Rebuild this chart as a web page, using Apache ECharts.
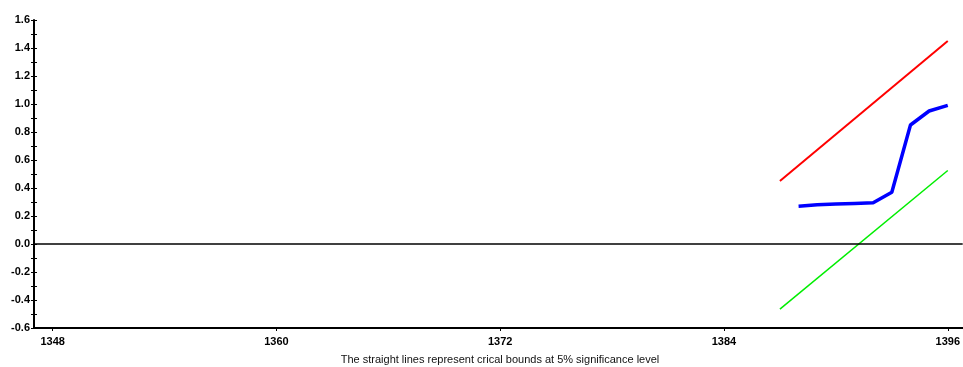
<!DOCTYPE html>
<html><head><meta charset="utf-8">
<script src="https://cdn.jsdelivr.net/npm/echarts@6/dist/echarts.min.js"></script>
<style>html,body{margin:0;padding:0;background:#fff}#c{width:963px;height:367px}</style>
</head><body><div id="c"></div>
<script>
const xTicks = [1348, 1360, 1372, 1384, 1396];
const boundYears = [1387, 1396];
const upperBound = [0.45, 1.45];
const lowerBound = [-0.465, 0.525];
const statYears = [1388, 1389, 1390, 1391, 1392, 1393, 1394, 1395, 1396];
const statValues = [0.27, 0.28, 0.285, 0.29, 0.295, 0.37, 0.85, 0.95, 0.99];
const caption = 'The straight lines represent crical bounds at 5% significance level';

const zip = (xs, ys) => xs.map((x, i) => [x, ys[i]]);
const lblFont = {fontFamily: 'Liberation Sans, Arial, sans-serif', fontWeight: 'bold', fontSize: 11, color: '#000'};

const chart = echarts.init(document.getElementById('c'), null, {renderer: 'canvas'});
chart.setOption({
  animation: false,
  backgroundColor: '#fff',
  grid: {left: 34, top: 20, right: 0, bottom: 39, containLabel: false},
  xAxis: [{
    type: 'value', min: 1347, max: 1396.8,
    axisLine: {show: true, onZero: false, lineStyle: {color: '#000', width: 2}},
    axisTick: {show: true, customValues: xTicks, length: 3, lineStyle: {color: '#000'}},
    axisLabel: Object.assign({customValues: xTicks, margin: 8, formatter: v => String(v)}, lblFont),
    splitLine: {show: false}
  }],
  yAxis: [{
    type: 'value', min: -0.6, max: 1.6, interval: 0.2,
    axisLine: {show: true, onZero: false, lineStyle: {color: '#000', width: 2}},
    axisTick: {show: true, length: 3, lineStyle: {color: '#000'}},
    minorTick: {show: true, splitNumber: 2, length: 3, lineStyle: {color: '#000'}},
    axisLabel: Object.assign({margin: 4, formatter: v => v.toFixed(1)}, lblFont),
    splitLine: {show: false}, minorSplitLine: {show: false}
  }, {
    type: 'value', min: -0.6, max: 1.6, interval: 0.2, position: 'left',
    axisLine: {show: false},
    axisTick: {show: true, inside: true, length: 3, lineStyle: {color: '#000'}},
    minorTick: {show: true, splitNumber: 2, length: 3, lineStyle: {color: '#000'}},
    axisLabel: {show: false},
    splitLine: {show: false}
  }],
  series: [
    {type: 'line', data: zip(boundYears, upperBound), symbol: 'none',
     lineStyle: {color: '#ff0000', width: 2}, z: 3,
     markLine: {silent: true, symbol: 'none', label: {show: false},
       lineStyle: {color: '#000', width: 1.5, type: 'solid'}, data: [{yAxis: 0}]}},
    {type: 'line', data: zip(boundYears, lowerBound), symbol: 'none',
     lineStyle: {color: '#00ee00', width: 1.5}, z: 3},
    {type: 'line', data: zip(statYears, statValues), symbol: 'none',
     lineStyle: {color: '#0000ff', width: 3.5}, z: 4}
  ],
  graphic: [{type: 'text', x: 500, y: 354,
    style: {text: caption, fill: '#111', font: '11px "Liberation Sans", Arial, sans-serif', textAlign: 'center'}}]
});
</script></body></html>
